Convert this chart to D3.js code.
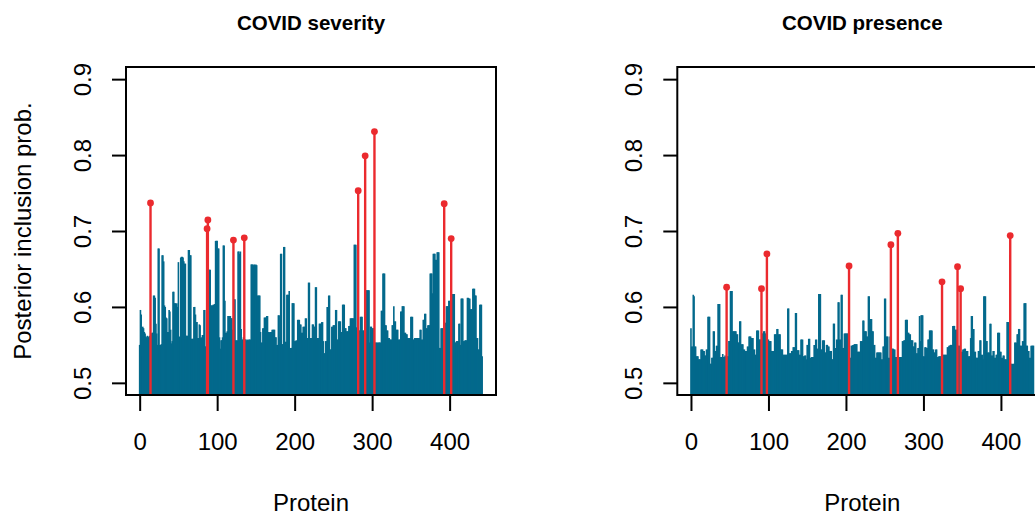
<!DOCTYPE html>
<html>
<head>
<meta charset="utf-8">
<title>COVID severity / presence</title>
<script src="https://cdn.jsdelivr.net/npm/d3@7"></script>
<style>
  body { margin: 0; background: #fff; }
  svg { font-family: "Liberation Sans", Arial, Helvetica, sans-serif; }
</style>
</head>
<body>
<svg id="chart" width="1035" height="515"></svg>
<script>
// posterior inclusion probabilities, one value per protein (index 0..442)
const severityPIP = [
  0.55, 0.596, 0.59, 0.535, 0.574, 0.572, 0.567, 0.565, 0.561, 0.56,
  0.562, 0.56, 0.561, 0.562, 0.737, 0.565, 0.566, 0.566, 0.615, 0.615,
  0.612, 0.578, 0.565, 0.55, 0.677, 0.677, 0.55, 0.55, 0.551, 0.668,
  0.668, 0.66, 0.602, 0.6, 0.586, 0.585, 0.567, 0.567, 0.596, 0.594,
  0.57, 0.552, 0.555, 0.62, 0.62, 0.605, 0.605, 0.604, 0.605, 0.6,
  0.659, 0.561, 0.56, 0.665, 0.666, 0.666, 0.665, 0.66, 0.657, 0.657,
  0.562, 0.562, 0.562, 0.675, 0.675, 0.668, 0.668, 0.558, 0.558, 0.558,
  0.6, 0.6, 0.59, 0.58, 0.58, 0.559, 0.559, 0.577, 0.576, 0.559,
  0.56, 0.563, 0.563, 0.596, 0.596, 0.548, 0.548, 0.703, 0.7145, 0.649,
  0.649, 0.649, 0.602, 0.602, 0.602, 0.603, 0.603, 0.604, 0.687, 0.687,
  0.687, 0.677, 0.677, 0.56, 0.545, 0.556, 0.556, 0.56, 0.681, 0.681,
  0.608, 0.566, 0.566, 0.568, 0.588, 0.588, 0.588, 0.588, 0.585, 0.585,
  0.57, 0.688, 0.61, 0.61, 0.556, 0.556, 0.556, 0.673, 0.673, 0.67,
  0.673, 0.571, 0.557, 0.557, 0.56, 0.691, 0.557, 0.557, 0.556, 0.557,
  0.556, 0.557, 0.557, 0.557, 0.656, 0.656, 0.656, 0.655, 0.656, 0.655,
  0.656, 0.655, 0.615, 0.615, 0.615, 0.615, 0.567, 0.553, 0.553, 0.572,
  0.572, 0.586, 0.586, 0.586, 0.588, 0.588, 0.567, 0.567, 0.566, 0.567,
  0.567, 0.57, 0.57, 0.57, 0.57, 0.56, 0.56, 0.55, 0.55, 0.589,
  0.589, 0.56, 0.67, 0.67, 0.551, 0.551, 0.679, 0.679, 0.554, 0.554,
  0.616, 0.616, 0.616, 0.621, 0.546, 0.546, 0.546, 0.605, 0.605, 0.605,
  0.555, 0.555, 0.556, 0.555, 0.583, 0.583, 0.583, 0.577, 0.577, 0.566,
  0.566, 0.574, 0.574, 0.574, 0.585, 0.585, 0.559, 0.559, 0.632, 0.632,
  0.559, 0.559, 0.559, 0.577, 0.577, 0.574, 0.574, 0.626, 0.626, 0.559,
  0.559, 0.559, 0.578, 0.578, 0.578, 0.58, 0.58, 0.555, 0.539, 0.539,
  0.555, 0.555, 0.6, 0.6, 0.615, 0.615, 0.544, 0.544, 0.574, 0.574,
  0.576, 0.576, 0.576, 0.596, 0.596, 0.557, 0.557, 0.581, 0.581, 0.581,
  0.567, 0.567, 0.603, 0.603, 0.603, 0.572, 0.572, 0.568, 0.568, 0.568,
  0.575, 0.575, 0.585, 0.585, 0.585, 0.585, 0.585, 0.682, 0.682, 0.682,
  0.573, 0.573, 0.753, 0.569, 0.569, 0.587, 0.587, 0.587, 0.569, 0.569,
  0.569, 0.799, 0.622, 0.622, 0.622, 0.622, 0.622, 0.553, 0.574, 0.574,
  0.572, 0.572, 0.572, 0.831, 0.553, 0.553, 0.553, 0.553, 0.553, 0.553,
  0.553, 0.553, 0.595, 0.595, 0.644, 0.644, 0.644, 0.576, 0.576, 0.569,
  0.569, 0.559, 0.559, 0.557, 0.557, 0.557, 0.576, 0.576, 0.601, 0.581,
  0.581, 0.57, 0.57, 0.57, 0.557, 0.557, 0.557, 0.594, 0.594, 0.601,
  0.601, 0.601, 0.566, 0.566, 0.564, 0.564, 0.559, 0.559, 0.559, 0.559,
  0.587, 0.587, 0.587, 0.557, 0.557, 0.559, 0.559, 0.559, 0.559, 0.559,
  0.559, 0.559, 0.57, 0.57, 0.557, 0.557, 0.583, 0.583, 0.591, 0.591,
  0.572, 0.572, 0.576, 0.576, 0.576, 0.644, 0.644, 0.644, 0.618, 0.67,
  0.67, 0.67, 0.662, 0.662, 0.672, 0.672, 0.672, 0.546, 0.546, 0.572,
  0.572, 0.572, 0.572, 0.736, 0.579, 0.579, 0.601, 0.601, 0.601, 0.608,
  0.608, 0.608, 0.69, 0.55, 0.617, 0.617, 0.617, 0.553, 0.553, 0.555,
  0.555, 0.555, 0.578, 0.578, 0.55, 0.611, 0.611, 0.611, 0.555, 0.555,
  0.556, 0.556, 0.556, 0.612, 0.612, 0.611, 0.611, 0.597, 0.597, 0.597,
  0.624, 0.624, 0.624, 0.615, 0.615, 0.559, 0.559, 0.544, 0.544, 0.603,
  0.603, 0.603, 0.535
];

const presencePIP = [
  0.572, 0.548, 0.548, 0.616, 0.614, 0.548, 0.548, 0.535, 0.535, 0.535,
  0.531, 0.531, 0.531, 0.544, 0.544, 0.544, 0.542, 0.542, 0.536, 0.536,
  0.544, 0.544, 0.587, 0.587, 0.587, 0.525, 0.525, 0.533, 0.533, 0.568,
  0.568, 0.542, 0.542, 0.549, 0.549, 0.604, 0.604, 0.604, 0.534, 0.534,
  0.534, 0.538, 0.534, 0.534, 0.536, 0.534, 0.626, 0.535, 0.535, 0.555,
  0.555, 0.621, 0.621, 0.621, 0.568, 0.568, 0.568, 0.568, 0.568, 0.564,
  0.564, 0.553, 0.553, 0.581, 0.581, 0.551, 0.551, 0.551, 0.544, 0.544,
  0.542, 0.542, 0.542, 0.548, 0.548, 0.561, 0.561, 0.561, 0.559, 0.559,
  0.559, 0.544, 0.544, 0.537, 0.537, 0.569, 0.569, 0.569, 0.557, 0.557,
  0.557, 0.624, 0.565, 0.565, 0.568, 0.568, 0.565, 0.565, 0.67, 0.557,
  0.557, 0.555, 0.555, 0.555, 0.542, 0.542, 0.542, 0.542, 0.564, 0.564,
  0.564, 0.571, 0.571, 0.564, 0.564, 0.564, 0.544, 0.544, 0.544, 0.537,
  0.537, 0.537, 0.537, 0.537, 0.537, 0.598, 0.598, 0.539, 0.539, 0.539,
  0.542, 0.542, 0.547, 0.547, 0.547, 0.592, 0.592, 0.543, 0.543, 0.543,
  0.537, 0.537, 0.557, 0.557, 0.557, 0.535, 0.535, 0.536, 0.536, 0.531,
  0.55, 0.55, 0.558, 0.558, 0.533, 0.533, 0.534, 0.534, 0.534, 0.55,
  0.55, 0.557, 0.557, 0.545, 0.545, 0.617, 0.617, 0.617, 0.544, 0.544,
  0.556, 0.556, 0.556, 0.54, 0.54, 0.55, 0.55, 0.548, 0.548, 0.542,
  0.542, 0.542, 0.531, 0.531, 0.578, 0.578, 0.546, 0.546, 0.557, 0.557,
  0.606, 0.606, 0.557, 0.557, 0.616, 0.616, 0.546, 0.546, 0.565, 0.565,
  0.565, 0.565, 0.565, 0.565, 0.654, 0.533, 0.533, 0.549, 0.549, 0.55,
  0.55, 0.551, 0.551, 0.551, 0.551, 0.541, 0.541, 0.541, 0.541, 0.555,
  0.555, 0.555, 0.582, 0.582, 0.568, 0.568, 0.568, 0.561, 0.561, 0.614,
  0.614, 0.584, 0.584, 0.584, 0.568, 0.568, 0.55, 0.55, 0.533, 0.533,
  0.54, 0.54, 0.54, 0.54, 0.54, 0.54, 0.531, 0.531, 0.548, 0.548,
  0.611, 0.611, 0.561, 0.561, 0.561, 0.533, 0.533, 0.561, 0.682, 0.545,
  0.545, 0.545, 0.544, 0.544, 0.534, 0.534, 0.534, 0.697, 0.534, 0.534,
  0.534, 0.534, 0.534, 0.555, 0.555, 0.556, 0.556, 0.583, 0.583, 0.583,
  0.566, 0.566, 0.564, 0.564, 0.556, 0.556, 0.556, 0.548, 0.548, 0.553,
  0.553, 0.539, 0.539, 0.546, 0.546, 0.588, 0.555, 0.589, 0.589, 0.589,
  0.535, 0.535, 0.547, 0.547, 0.546, 0.546, 0.557, 0.557, 0.569, 0.569,
  0.569, 0.569, 0.544, 0.544, 0.54, 0.54, 0.544, 0.544, 0.534, 0.534,
  0.535, 0.535, 0.535, 0.535, 0.633, 0.537, 0.537, 0.537, 0.537, 0.537,
  0.537, 0.547, 0.547, 0.549, 0.549, 0.55, 0.55, 0.55, 0.575, 0.575,
  0.575, 0.57, 0.57, 0.57, 0.653, 0.549, 0.549, 0.549, 0.624, 0.541,
  0.541, 0.544, 0.544, 0.545, 0.545, 0.542, 0.542, 0.542, 0.535, 0.535,
  0.535, 0.559, 0.588, 0.588, 0.571, 0.571, 0.541, 0.541, 0.533, 0.533,
  0.533, 0.542, 0.542, 0.556, 0.556, 0.537, 0.537, 0.531, 0.614, 0.614,
  0.614, 0.555, 0.555, 0.54, 0.54, 0.54, 0.578, 0.578, 0.536, 0.536,
  0.542, 0.542, 0.533, 0.533, 0.537, 0.537, 0.566, 0.566, 0.566, 0.541,
  0.541, 0.533, 0.533, 0.536, 0.536, 0.531, 0.531, 0.531, 0.58, 0.58,
  0.58, 0.55, 0.694, 0.525, 0.525, 0.525, 0.525, 0.525, 0.553, 0.553,
  0.553, 0.564, 0.564, 0.571, 0.571, 0.549, 0.549, 0.549, 0.555, 0.555,
  0.605, 0.605, 0.605, 0.549, 0.549, 0.542, 0.542, 0.533, 0.533, 0.549,
  0.549, 0.549, 0.549
];

// proteins flagged in red
const severityHits = [14, 87, 88, 121, 135, 282, 291, 303, 393, 402];
const presenceHits = [46, 91, 98, 204, 258, 267, 324, 344, 348, 412];

const xTicks = [0, 100, 200, 300, 400];
const yTicks = [0.5, 0.6, 0.7, 0.8, 0.9];

const panels = [
  { title: "COVID severity", values: severityPIP, hits: severityHits, left: 126, ylab: "Posterior inclusion prob." },
  { title: "COVID presence", values: presencePIP, hits: presenceHits, left: 677.3, ylab: "" }
];

function drawChart() {
    var svg = d3.select("#chart");
    var plotTop = 67, plotBottom = 395, boxW = 370;
    var barCol = "#03698c", hitCol = "#eb2a2e";

    panels.forEach(function(p, k) {
        var x = d3.scaleLinear().domain([-17.64, 459.85]).range([p.left, p.left + boxW]);
        var y = d3.scaleLinear().domain([0.484, 0.916]).range([plotBottom, plotTop]);

        var clipId = "clip" + k;
        svg.append("clipPath").attr("id", clipId)
            .append("rect").attr("x", p.left).attr("y", plotTop)
            .attr("width", boxW).attr("height", plotBottom - plotTop);

        var g = svg.append("g").attr("clip-path", "url(#" + clipId + ")");

        var idx = d3.range(p.values.length);
        var isHit = new Set(p.hits);

        // spikes from the bottom of the box (type = "h")
        g.selectAll(".bar")
            .data(idx.filter(function(i) { return !isHit.has(i); }))
            .enter().append("line")
            .attr("class", "bar")
            .attr("x1", function(i) { return x(i); })
            .attr("x2", function(i) { return x(i); })
            .attr("y1", plotBottom)
            .attr("y2", function(i) { return y(p.values[i]); })
            .attr("stroke", barCol)
            .attr("stroke-width", 1.6);

        g.selectAll(".hit")
            .data(p.hits)
            .enter().append("line")
            .attr("class", "hit")
            .attr("x1", function(i) { return x(i); })
            .attr("x2", function(i) { return x(i); })
            .attr("y1", plotBottom)
            .attr("y2", function(i) { return y(p.values[i]); })
            .attr("stroke", hitCol)
            .attr("stroke-width", 2.4);

        g.selectAll(".dot")
            .data(p.hits)
            .enter().append("circle")
            .attr("cx", function(i) { return x(i); })
            .attr("cy", function(i) { return y(p.values[i]); })
            .attr("r", 3.4)
            .attr("fill", hitCol);

        // box
        svg.append("rect")
            .attr("x", p.left).attr("y", plotTop)
            .attr("width", boxW).attr("height", plotBottom - plotTop)
            .attr("fill", "none").attr("stroke", "#000").attr("stroke-width", 2);

        // x axis
        var xa = svg.append("g")
            .attr("transform", "translate(0," + plotBottom + ")")
            .call(d3.axisBottom(x).tickValues(xTicks).tickFormat(d3.format("d"))
                .tickSize(16).tickSizeOuter(0).tickPadding(22));
        xa.select(".domain").remove();
        xa.selectAll("line").attr("stroke", "#000").attr("stroke-width", 2);
        xa.selectAll("text").attr("font-size", 24).attr("fill", "#000")
            .attr("font-family", "Liberation Sans, Arial, sans-serif");

        // y axis, labels parallel to the axis
        var ya = svg.append("g")
            .attr("transform", "translate(" + p.left + ",0)")
            .call(d3.axisLeft(y).tickValues(yTicks).tickFormat(d3.format(".1f"))
                .tickSize(14).tickSizeOuter(0));
        ya.select(".domain").remove();
        ya.selectAll("line").attr("stroke", "#000").attr("stroke-width", 2);
        ya.selectAll("text")
            .attr("x", 0).attr("y", -35).attr("dy", 0)
            .attr("transform", "rotate(-90)")
            .attr("text-anchor", "middle")
            .attr("font-size", 24).attr("fill", "#000")
            .attr("font-family", "Liberation Sans, Arial, sans-serif");

        var cx = p.left + boxW / 2;
        svg.append("text")
            .attr("x", cx).attr("y", 30)
            .attr("text-anchor", "middle")
            .attr("font-size", 20.5).attr("font-weight", "bold")
            .text(p.title);

        svg.append("text")
            .attr("x", cx).attr("y", 511)
            .attr("text-anchor", "middle")
            .attr("font-size", 24)
            .text("Protein");

        if (p.ylab) {
            svg.append("text")
                .attr("transform", "translate(31," + (plotTop + plotBottom) / 2 + ") rotate(-90)")
                .attr("text-anchor", "middle")
                .attr("font-size", 24)
                .text(p.ylab);
        }
    });
}

drawChart();
</script>
</body>
</html>
